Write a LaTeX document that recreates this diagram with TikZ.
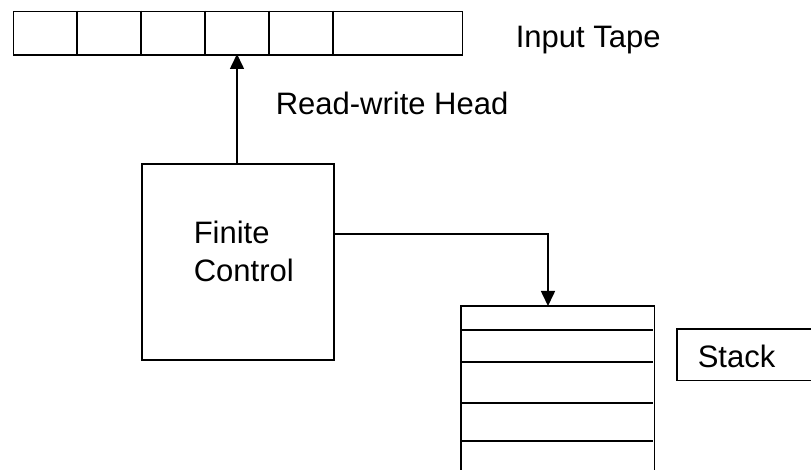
\documentclass[tikz,border=0pt]{standalone}
\usepackage{fontspec}
\setmainfont{Liberation Sans}
\usetikzlibrary{arrows.meta}
\begin{document}
\begin{tikzpicture}[x=1pt,y=-1pt,
  line width=1.6pt,
  boxline/.style={draw=black,line width=1.6pt,inner sep=0pt},
  lbl/.style={inner sep=0pt,font=\fontsize{31}{38}\selectfont,anchor=base west},
  arr/.style={-{Triangle[length=15pt,width=14pt]},line width=1.6pt}]
\useasboundingbox (0,0) rectangle (811,470);
% input tape
\node[boxline,minimum width=449pt,minimum height=43.3pt,anchor=north west] (tape) at (12.7,10.7) {};
\foreach \x in {77,141,205,269,333}
  \draw (\x,10.7) -- (\x,54);
\node[lbl] (tapelbl) at (515,48) {Input Tape};
% finite control
\node[boxline,minimum width=192pt,minimum height=196pt,anchor=north west] (fc) at (141,163) {};
\node[lbl,align=left] (fclbl) at (193,282) {Finite\\Control};
% head arrow
\coordinate (head) at (237,54);
\draw[arr] (fc.north -| head) -- (head);
\node[lbl] (headlbl) at (275,115) {Read-write Head};
% stack
\node[inner sep=0pt,minimum width=192pt,minimum height=164pt,anchor=north west] (stack) at (461,306) {};
\draw (stack.south west) -- (stack.north west) -- (stack.north east) -- (stack.south east);
\foreach \y in {330,362,403,441}
  \draw (461,\y) -- (653,\y);
\coordinate (push) at (548,306);
\draw[arr] (fc.east |- 0,234) -- (548,234) -- (push);
% stack label
\node[inner sep=0pt,minimum width=140pt,minimum height=50pt,anchor=north west] (stackbox) at (677,329) {};
\draw (stackbox.north east) -- (stackbox.north west) -- (stackbox.south west) -- (stackbox.south east);
\node[lbl] (stacklbl) at (697,367) {Stack};
\end{tikzpicture}
\end{document}
